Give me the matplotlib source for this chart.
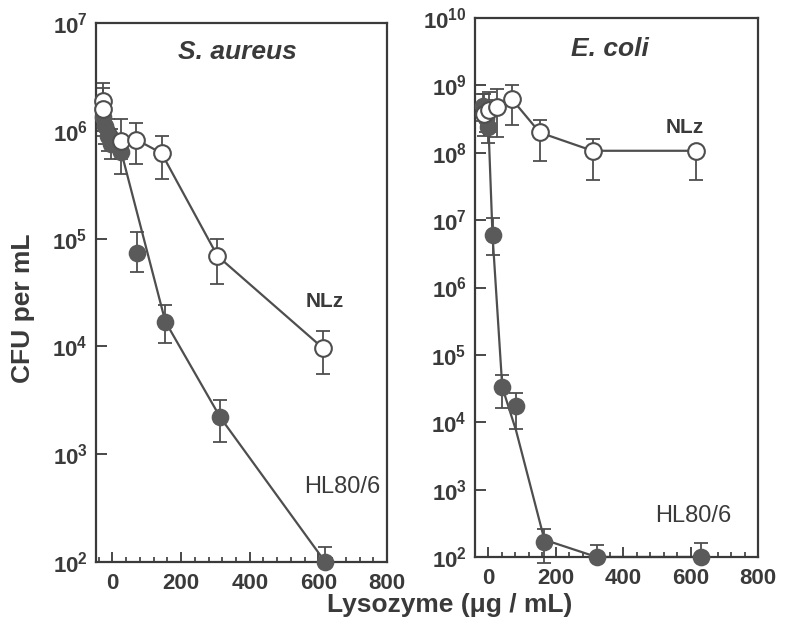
import numpy as np
import matplotlib
matplotlib.use("Agg")
import matplotlib.pyplot as plt
from matplotlib.ticker import FixedLocator, MultipleLocator, FuncFormatter

plt.rcParams['font.family'] = ['Liberation Sans', 'DejaVu Sans']
plt.rcParams['mathtext.fontset'] = 'custom'
plt.rcParams['mathtext.rm'] = 'Liberation Sans'
plt.rcParams['mathtext.bf'] = 'Liberation Sans:bold'
plt.rcParams['mathtext.it'] = 'Liberation Sans:italic'

ink = "#3a3a3a"
line_col = "#4e4e4e"
fill_col = "#5a5a5a"

# S. aureus, NLz (open symbols)
sa_nlz_x = [-29, -29, 26, 69, 143, 306, 614]
sa_nlz_y = [1.9e6, 1.6e6, 8.1e5, 8.3e5, 6.2e5, 6.9e4, 9.6e3]
sa_nlz_lo = [1.2e6, 1.0e6, 5.5e5, 4.9e5, 3.6e5, 3.8e4, 5.6e3]
sa_nlz_hi = [2.8e6, 2.5e6, 1.3e6, 1.18e6, 8.9e5, 1.0e5, 1.4e4]

# S. aureus, HL80/6 (filled symbols)
sa_hl_x = [-28, -22, -14, -5, 26, 71, 154, 314, 620]
sa_hl_y = [1.35e6, 1.1e6, 9.0e5, 7.5e5, 6.3e5, 7.4e4, 1.7e4, 2.2e3, 1.0e2]
sa_hl_lo = [9.0e5, 7.5e5, 6.5e5, 5.5e5, 4.0e5, 4.9e4, 1.07e4, 1.3e3, 1.0e2]
sa_hl_hi = [1.9e6, 1.6e6, 1.3e6, 1.05e6, 8.5e5, 1.15e5, 2.4e4, 3.2e3, 1.38e2]
# curve drawn through the HL80/6 data
sa_hl_fit_x = [-28, -14, 26, 154, 314, 620]
sa_hl_fit_y = [1.35e6, 9.0e5, 6.3e5, 1.7e4, 2.2e3, 1.0e2]

# E. coli, NLz
ec_nlz_x = [-12, 3, 26, 70, 152, 309, 615]
ec_nlz_y = [3.7e8, 4.3e8, 4.7e8, 6.2e8, 2.0e8, 1.07e8, 1.07e8]
ec_nlz_lo = [1.8e8, 2.0e8, 1.7e8, 2.6e8, 7.6e7, 4.0e7, 4.0e7]
ec_nlz_hi = [7.5e8, 8.0e8, 8.7e8, 1.0e9, 3.1e8, 1.6e8, 1.07e8]

# E. coli, HL80/6
ec_hl_x = [-15, -8, 0, 12, 41, 82, 166, 321, 630]
ec_hl_y = [5.0e8, 3.3e8, 2.4e8, 6.0e6, 3.3e4, 1.75e4, 1.67e2, 1.0e2, 1.0e2]
ec_hl_lo = [3.0e8, 2.0e8, 1.4e8, 3.0e6, 1.6e4, 7.9e3, 81, 1.0e2, 1.0e2]
ec_hl_hi = [7.5e8, 6.0e8, 4.0e8, 1.07e7, 5.0e4, 2.7e4, 2.6e2, 1.5e2, 1.6e2]
ec_hl_fit_x = [0, 12, 41, 82, 166, 321, 630]
ec_hl_fit_y = [2.4e8, 6.0e6, 3.3e4, 7.5e3, 1.8e2, 1.0e2, 1.0e2]

x_ticks = [0, 200, 400, 600, 800]


def errbars(ax, x, y, lo, hi):
    y = np.array(y)
    err = [y - np.array(lo), np.array(hi) - y]
    eb = ax.errorbar(x, y, yerr=err, fmt='none', ecolor=line_col,
                     elinewidth=1.3, capsize=5, capthick=1.3, zorder=2.5)
    for art in list(eb.lines[1]) + list(eb.lines[2]):
        art.set_clip_on(False)


def series(ax, x, y, lo, hi, fit_x, fit_y, filled):
    ax.plot(fit_x, fit_y, '-', color=line_col, lw=1.6, zorder=2, clip_on=False)
    errbars(ax, x, y, lo, hi)
    if filled:
        ax.plot(x, y, 'o', ms=11.5, mfc=fill_col, mec=fill_col, mew=1.2,
                zorder=3, clip_on=False)
    else:
        ax.plot(x, y, 'o', ms=12, mfc='white', mec=line_col, mew=1.5,
                zorder=4, clip_on=False)


def style_axes(ax, xlim, decades):
    ax.set_yscale('log')
    ax.set_xlim(*xlim)
    ax.set_ylim(10.0 ** decades[0], 10.0 ** decades[-1])
    ax.yaxis.set_major_locator(FixedLocator([10.0 ** d for d in decades]))
    ax.yaxis.set_minor_locator(FixedLocator([]))
    ax.yaxis.set_major_formatter(
        FuncFormatter(lambda v, p: r'$\mathbf{10^{%d}}$' % round(np.log10(v))))
    ax.xaxis.set_major_locator(FixedLocator(x_ticks))
    ax.xaxis.set_minor_locator(MultipleLocator(40))
    ax.set_xticklabels([str(t) for t in x_ticks])
    ax.tick_params(axis='both', which='both', direction='in', colors=ink,
                   top=False, right=False)
    ax.tick_params(axis='y', which='major', length=8, width=1.3, pad=6,
                   labelsize=16)
    ax.tick_params(axis='x', which='major', length=7, width=1.3, pad=8,
                   labelsize=16)
    ax.tick_params(axis='x', which='minor', length=3.5, width=1.2)
    for lab in ax.get_xticklabels():
        lab.set_fontweight('bold')
    for sp in ax.spines.values():
        sp.set_color(ink)
        sp.set_linewidth(1.6)


fig = plt.figure(figsize=(7.85, 6.3), dpi=100)
ax1 = fig.add_axes([0.1223, 0.1079, 0.3707, 0.8556])
ax2 = fig.add_axes([0.6051, 0.1159, 0.3605, 0.8555])

# left panel: S. aureus
style_axes(ax1, (-48, 800), list(range(2, 8)))
series(ax1, sa_hl_x, sa_hl_y, sa_hl_lo, sa_hl_hi, sa_hl_fit_x, sa_hl_fit_y, True)
series(ax1, sa_nlz_x, sa_nlz_y, sa_nlz_lo, sa_nlz_hi, sa_nlz_x, sa_nlz_y, False)
ax1.text(0.485, 0.946, 'S. aureus', transform=ax1.transAxes, ha='center',
         va='center', fontsize=19, fontweight='bold', style='italic', color=ink)
ax1.text(620, 2.6e4, 'NLz', ha='center', va='center', fontsize=15,
         fontweight='bold', color=ink)
ax1.text(669, 5.0e2, 'HL80/6', ha='center', va='center', fontsize=17,
         color=ink)

# right panel: E. coli
style_axes(ax2, (-40, 800), list(range(2, 11)))
series(ax2, ec_hl_x, ec_hl_y, ec_hl_lo, ec_hl_hi, ec_hl_fit_x, ec_hl_fit_y, True)
series(ax2, ec_nlz_x, ec_nlz_y, ec_nlz_lo, ec_nlz_hi, ec_nlz_x, ec_nlz_y, False)
ax2.text(0.477, 0.9425, 'E. coli', transform=ax2.transAxes, ha='center',
         va='center', fontsize=19, fontweight='bold', style='italic', color=ink)
ax2.text(583, 2.4e8, 'NLz', ha='center', va='center', fontsize=15,
         fontweight='bold', color=ink)
ax2.text(607, 4.0e2, 'HL80/6', ha='center', va='center', fontsize=17,
         color=ink)

fig.text(0.029, 0.511, 'CFU per mL', rotation='vertical', ha='center',
         va='center', fontsize=19, fontweight='bold', color=ink)
fig.text(0.573, 0.040, 'Lysozyme (\u03bcg / mL)', ha='center', va='center',
         fontsize=19, fontweight='bold', color=ink)

fig.savefig('out.png', dpi=100)
